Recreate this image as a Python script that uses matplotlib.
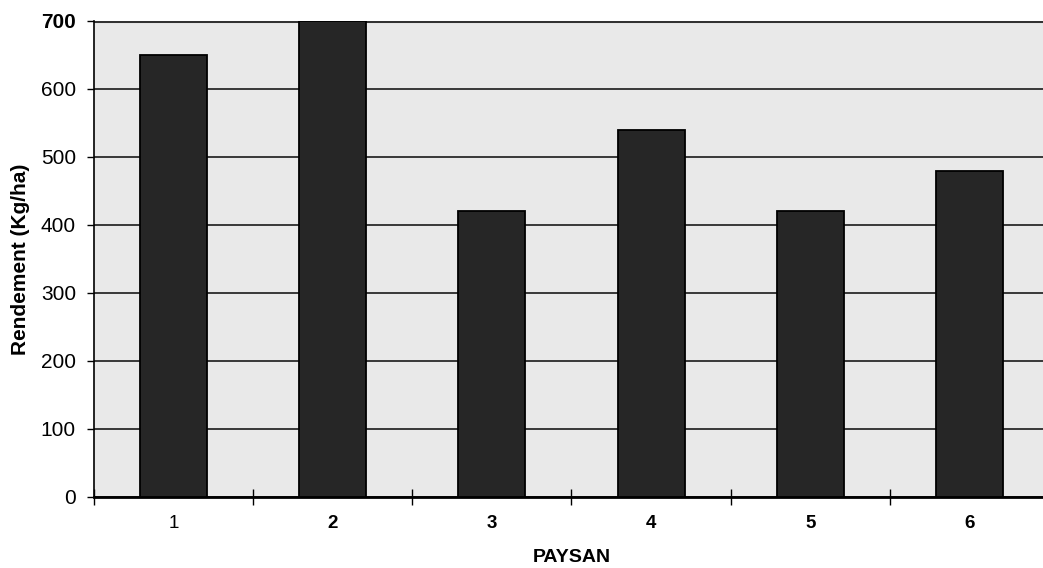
import matplotlib
matplotlib.use("Agg")
import matplotlib.pyplot as plt
import numpy as np

plt.rcParams['font.family'] = ['Liberation Sans', 'DejaVu Sans']

paysans = ["1", "2", "3", "4", "5", "6"]
rendement = [650, 700, 420, 540, 420, 480]
y_ticks = [0, 100, 200, 300, 400, 500, 600, 700]

fig = plt.figure(figsize=(10.43, 5.68), dpi=100)
ax = fig.add_axes([94 / 1043, 71 / 568, 955 / 1043, 476 / 568])
ax.set_facecolor("#e9e9e9")

x = np.arange(len(paysans))
ax.bar(x, rendement, width=0.42, color="#262626", edgecolor="black",
       linewidth=1.3, zorder=3)

ax.set_xlim(-0.5, len(paysans) - 0.5)
ax.set_ylim(0, 700)
ax.set_yticks(y_ticks)
ax.set_yticklabels([str(v) for v in y_ticks], fontsize=15)
ax.get_yticklabels()[-1].set_fontweight("bold")
ax.yaxis.grid(True, color="#1a1a1a", linewidth=1.2, zorder=1)
ax.set_axisbelow(True)

ax.set_xticks(x)
ax.set_xticklabels(paysans, fontsize=13.5, fontweight="bold")
ax.get_xticklabels()[0].set_fontweight("light")
ax.tick_params(axis="x", length=0, pad=13)
ax.set_xticks(np.arange(len(paysans) + 1) - 0.5, minor=True)
ax.tick_params(axis="x", which="minor", direction="inout", length=12, width=1)
ax.tick_params(axis="y", direction="out", length=5, width=1, pad=8)

for side in ("top", "right"):
    ax.spines[side].set_visible(False)
ax.spines["left"].set_linewidth(1.2)
ax.spines["bottom"].set_linewidth(2)
ax.axhline(700, color="#333333", linewidth=2.2, zorder=2)

ax.set_xlabel("PAYSAN", fontsize=14, fontweight="bold", labelpad=12)
ax.set_ylabel("Rendement (Kg/ha)", fontsize=15, fontweight="bold", labelpad=8)

fig.savefig("out.png", dpi=100)
